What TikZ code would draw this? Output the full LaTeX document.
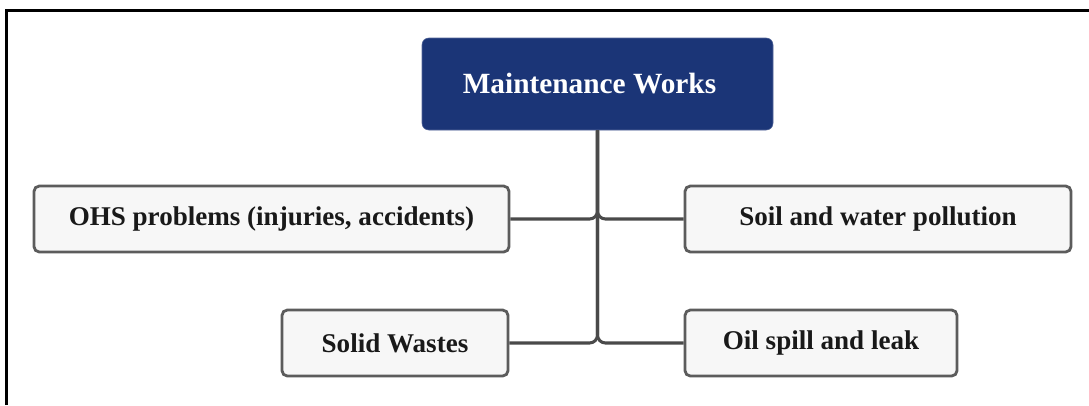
\documentclass[tikz,border=0pt]{standalone}
\usepackage{fontspec}
\setmainfont{Liberation Serif}
\usetikzlibrary{positioning}
\definecolor{navy}{HTML}{1B3577}
\definecolor{leafgray}{HTML}{F7F7F7}
\definecolor{edgegray}{HTML}{4A4A4A}
\tikzset{ topbox/.style={ rectangle, rounded corners=5pt, fill=navy, draw=navy!75!white, thin, text=white, font=\bfseries\fontsize{22}{26}\selectfont, minimum width=263.25pt, minimum height=69pt, inner sep=0pt}, leaf/.style={ rectangle, rounded corners=4pt, draw=edgegray!90, line width=2.1pt, fill=leafgray, text=black!90, font=\bfseries\fontsize{20.3}{24}\selectfont, minimum height=49.5pt, inner sep=0pt}, link/.style={ draw=edgegray, line width=2.3pt, rounded corners=6pt}}

\begin{document}
\begin{tikzpicture}[x=0.75pt, y=-0.75pt]
    \useasboundingbox (0,0) rectangle (1089,405);
    % frame (only top and left edge show)
    \draw[line width=2.2pt] (6.5,405) -- (6.5,10.5) -- (1089,10.5);
    %nodes
    \node[topbox] (main) at (597.5,84) {Maintenance Works\hspace*{12pt}};
    \node[leaf, minimum width=356.25pt] (ohs) at (271.5,219) {OHS problems (injuries, accidents)};
    \node[leaf, minimum width=289.5pt] (soil) at (878,219) {Soil and water pollution};
    \node[leaf, minimum width=169.5pt] (solid) at (395,343) {Solid Wastes};
    \node[leaf, minimum width=204pt] (oil) at (821,343) {Oil spill and leak};
    % links from the top box down the trunk
    \draw[link] (main.south) |- (ohs.east);
    \draw[link] (main.south) |- (soil.west);
    \draw[link] (main.south) |- (solid.east);
    \draw[link] (main.south) |- (oil.west);
\end{tikzpicture}
\end{document}
